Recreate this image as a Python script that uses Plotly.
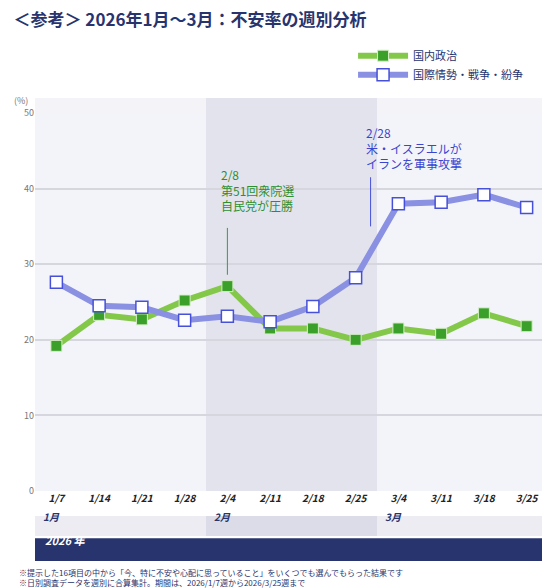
import plotly.graph_objects as go

weeks = ["1/7", "1/14", "1/21", "1/28", "2/4", "2/11", "2/18", "2/25", "3/4", "3/11", "3/18", "3/25"]
domestic = [19.2, 23.3, 22.7, 25.2, 27.1, 21.5, 21.5, 20.0, 21.5, 20.8, 23.5, 21.8]
international = [27.6, 24.5, 24.3, 22.6, 23.1, 22.4, 24.4, 28.2, 38.0, 38.2, 39.2, 37.5]
months = ["1月", "2月", "3月"]
xs = list(range(len(weeks)))

fig = go.Figure()
fig.add_scatter(x=xs, y=domestic, name="国内政治", mode="lines+markers",
                line=dict(color="#84c84a", width=6),
                marker=dict(symbol="square", size=11, color="#3aa02a", line=dict(color="#d8efc8", width=1)))
fig.add_scatter(x=xs, y=international, name="国際情勢・戦争・紛争", mode="lines+markers",
                line=dict(color="#8a90e2", width=6),
                marker=dict(symbol="square", size=12, color="white", line=dict(color="#4650d8", width=1.5)))

shapes = [
    # light band above the plot
    dict(type="rect", xref="paper", yref="paper", x0=0, x1=1, y0=1.0, y1=1.04,
         fillcolor="#f4f4f8", line_width=0, layer="below"),
    # February shading
    dict(type="rect", xref="x", yref="paper", x0=3.5, x1=7.5, y0=0, y1=1.04,
         fillcolor="#e3e3ee", line_width=0, layer="below"),
    # month row
    dict(type="rect", xref="paper", yref="paper", x0=0, x1=1, y0=-0.119, y1=-0.066,
         fillcolor="#ececf2", line_width=0),
    dict(type="rect", xref="x", yref="paper", x0=3.5, x1=7.5, y0=-0.119, y1=-0.066,
         fillcolor="#dcdce8", line_width=0),
    # year bar
    dict(type="rect", xref="paper", yref="paper", x0=0, x1=1, y0=-0.185, y1=-0.125,
         fillcolor="#27346e", line_width=0),
    # annotation leader lines
    dict(type="line", xref="x", yref="y", x0=4.0, x1=4.0, y0=28.6, y1=34.8,
         line=dict(color="#3a9a3a", width=1)),
    dict(type="line", xref="x", yref="y", x0=7.35, x1=7.35, y0=35, y1=41.5,
         line=dict(color="#4650d8", width=1)),
]

annotations = [
    dict(text="2/8<br>第51回衆院選<br>自民党が圧勝", x=3.8, y=43.3, xref="x", yref="y",
         xanchor="left", yanchor="top", showarrow=False, align="left",
         font=dict(color="#2f8f2f", size=12)),
    dict(text="2/28<br>米・イスラエルが<br>イランを軍事攻撃", x=7.2, y=48.8, xref="x", yref="y",
         xanchor="left", yanchor="top", showarrow=False, align="left",
         font=dict(color="#3a46d0", size=12)),
    dict(text="(%)", x=-0.045, y=1.055, xref="paper", yref="paper", xanchor="left",
         showarrow=False, font=dict(size=9, color="#777")),
    dict(text="<b><i>2026 年</i></b>", x=0.015, y=-0.155, xref="paper", yref="paper", xanchor="left",
         showarrow=False, font=dict(size=11, color="white")),
    dict(text="※提示した16項目の中から「今、特に不安や心配に思っていること」をいくつでも選んでもらった結果です<br>"
              "※日別調査データを週別に合算集計。期間は、2026/1/7週から2026/3/25週まで",
         x=-0.035, y=-0.195, xref="paper", yref="paper", xanchor="left", yanchor="top",
         showarrow=False, align="left", font=dict(size=8, color="#27346e")),
]
for i, m in enumerate(months):
    annotations.append(dict(text="<b><i>" + m + "</i></b>", x=i * 4 - 0.35, y=-0.092, xref="x", yref="paper",
                            xanchor="left", showarrow=False, font=dict(size=10, color="#27346e")))

fig.update_layout(
    width=550, height=588,
    margin=dict(l=27, r=10, t=105, b=105, autoexpand=False),
    paper_bgcolor="white", plot_bgcolor="#f3f4fa",
    font=dict(family="Noto Sans CJK JP"),
    title=dict(text="<b>＜参考＞ 2026年1月～3月：不安率の週別分析</b>", x=0.01, y=0.99,
               xanchor="left", yanchor="top", font=dict(size=17, color="#27346e")),
    legend=dict(x=0.62, y=1.19, xanchor="left", yanchor="top", bgcolor="rgba(0,0,0,0)",
                font=dict(size=11, color="#27346e"), itemwidth=50),
    xaxis=dict(tickvals=xs, ticktext=["<b><i>" + w + "</i></b>" for w in weeks], range=[-0.5, 11.5],
               showgrid=False, zeroline=False, tickfont=dict(size=10, color="#222"), ticks="",
               automargin=False),
    yaxis=dict(range=[0, 50], dtick=10, gridcolor="#d6d6de", gridwidth=1.5, zeroline=False,
               tickfont=dict(size=9, color="#777"), ticks="", automargin=False),
    shapes=shapes, annotations=annotations,
)
fig.write_html("out.html")
